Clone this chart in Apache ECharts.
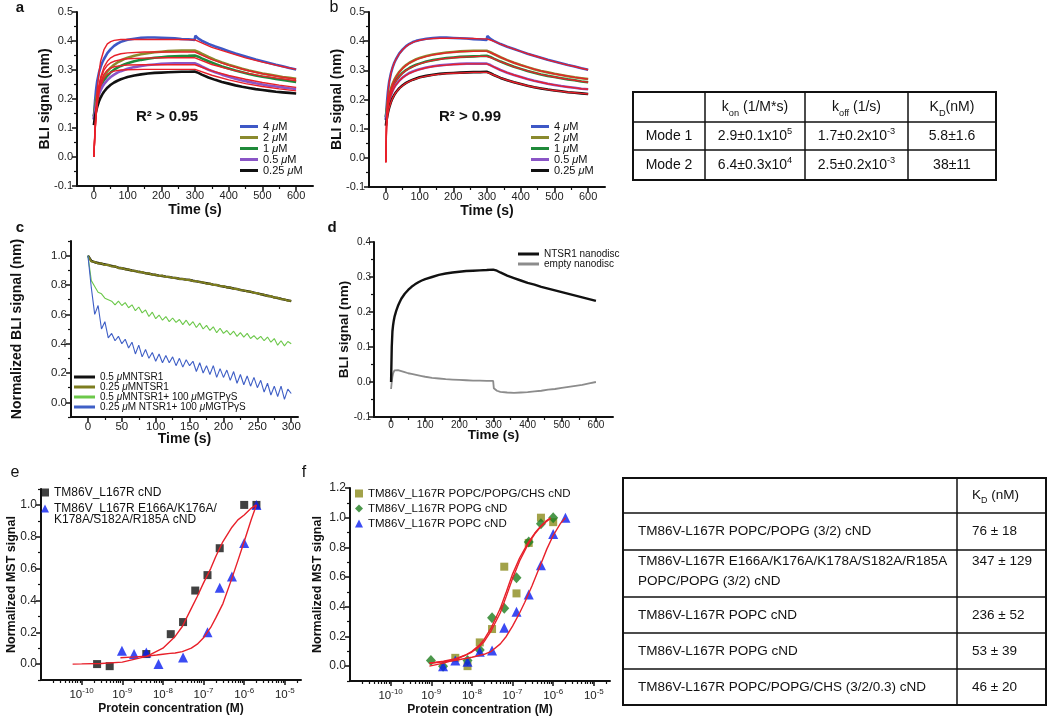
<!DOCTYPE html>
<html><head><meta charset="utf-8">
<script src="https://cdn.jsdelivr.net/npm/echarts@6/dist/echarts.min.js"></script>
<style>html,body{margin:0;padding:0;background:#fff}#chart{width:1050px;height:719px}</style>
</head><body><div id="chart"></div>
<script>
// ---------------- DATA ----------------
// a / b / d : BLI kinetics (time in s)
const timeKinetic = [0,2,4,6,8,10,15,20,25,30,40,50,60,70,80,90,100,120,140,160,180,200,220,240,260,280,299,301,310,320,340,360,380,400,420,440,460,480,500,520,540,560,580,600];
const bli4uM   = [0.13,0.17,0.2,0.225,0.245,0.262,0.29,0.31,0.326,0.338,0.358,0.372,0.383,0.391,0.397,0.401,0.404,0.408,0.411,0.412,0.412,0.411,0.41,0.409,0.407,0.406,0.404,0.418,0.408,0.401,0.39,0.381,0.373,0.365,0.357,0.35,0.343,0.336,0.33,0.324,0.318,0.313,0.307,0.302];
const bli2uM   = [0.14,0.16,0.178,0.193,0.205,0.215,0.237,0.254,0.267,0.278,0.295,0.308,0.318,0.326,0.332,0.338,0.342,0.349,0.354,0.358,0.361,0.363,0.365,0.366,0.367,0.367,0.367,0.369,0.362,0.356,0.345,0.335,0.326,0.318,0.311,0.304,0.298,0.293,0.288,0.284,0.28,0.276,0.273,0.27];
const bli1uM   = [0.14,0.155,0.17,0.183,0.195,0.205,0.226,0.242,0.255,0.265,0.28,0.292,0.301,0.308,0.314,0.319,0.323,0.33,0.335,0.339,0.342,0.344,0.346,0.347,0.348,0.349,0.35,0.352,0.346,0.34,0.33,0.321,0.312,0.305,0.298,0.292,0.286,0.281,0.277,0.273,0.269,0.266,0.262,0.259];
const bli05uM  = [0.13,0.148,0.163,0.176,0.187,0.197,0.215,0.23,0.242,0.251,0.265,0.276,0.284,0.291,0.296,0.3,0.304,0.31,0.314,0.317,0.319,0.321,0.322,0.323,0.323,0.323,0.323,0.325,0.318,0.312,0.301,0.292,0.284,0.277,0.27,0.264,0.259,0.254,0.25,0.246,0.243,0.24,0.237,0.235];
const bli025uM = [0.11,0.128,0.142,0.154,0.164,0.173,0.191,0.205,0.216,0.225,0.239,0.249,0.257,0.263,0.268,0.272,0.276,0.281,0.285,0.288,0.29,0.291,0.292,0.293,0.294,0.294,0.295,0.297,0.29,0.284,0.274,0.266,0.259,0.253,0.247,0.242,0.238,0.234,0.231,0.228,0.225,0.223,0.221,0.219];
// a: global fit (R2 > 0.95)
const fitTimeA = [0,3,6,10,15,20,30,40,50,60,80,100,150,200,250,300,350,400,450,500,550,600];
const fitA4uM   = [0,0.09,0.16,0.235,0.29,0.33,0.37,0.39,0.398,0.402,0.405,0.405,0.405,0.405,0.405,0.404,0.378,0.36,0.342,0.327,0.314,0.302];
const fitA2uM   = [0,0.08,0.14,0.2,0.245,0.275,0.31,0.33,0.342,0.349,0.356,0.359,0.362,0.362,0.362,0.362,0.336,0.316,0.3,0.287,0.277,0.268];
const fitA1uM   = [0,0.08,0.14,0.2,0.24,0.268,0.3,0.316,0.325,0.33,0.336,0.339,0.341,0.342,0.342,0.342,0.319,0.303,0.29,0.279,0.271,0.263];
const fitA05uM  = [0,0.078,0.135,0.19,0.23,0.255,0.285,0.3,0.307,0.311,0.315,0.317,0.318,0.318,0.318,0.318,0.297,0.281,0.268,0.257,0.248,0.24];
const fitA025uM = [0,0.075,0.13,0.18,0.22,0.245,0.272,0.285,0.292,0.296,0.3,0.301,0.302,0.302,0.302,0.302,0.282,0.266,0.253,0.243,0.235,0.228];
// b: two-mode fit (R2 > 0.99), on timeKinetic
const fitB4uM   = [-0.015,0.13,0.185,0.22,0.243,0.261,0.29,0.31,0.326,0.338,0.357,0.371,0.382,0.39,0.396,0.4,0.403,0.407,0.409,0.41,0.41,0.41,0.41,0.409,0.409,0.408,0.408,0.407,0.404,0.4,0.39,0.381,0.373,0.365,0.357,0.35,0.343,0.336,0.33,0.324,0.318,0.313,0.307,0.302];
const fitB2uM   = [-0.015,0.12,0.165,0.19,0.204,0.214,0.236,0.253,0.266,0.277,0.294,0.307,0.317,0.325,0.332,0.337,0.341,0.348,0.353,0.357,0.36,0.362,0.364,0.365,0.365,0.366,0.366,0.365,0.361,0.356,0.345,0.335,0.326,0.318,0.311,0.304,0.298,0.293,0.288,0.284,0.28,0.276,0.273,0.27];
const fitB1uM   = [-0.015,0.115,0.155,0.18,0.193,0.204,0.225,0.241,0.254,0.264,0.279,0.291,0.3,0.307,0.313,0.318,0.322,0.329,0.334,0.338,0.341,0.343,0.345,0.346,0.347,0.348,0.348,0.347,0.344,0.34,0.33,0.321,0.312,0.305,0.298,0.292,0.286,0.281,0.277,0.273,0.269,0.266,0.262,0.259];
const fitB05uM  = [-0.015,0.11,0.148,0.17,0.184,0.195,0.214,0.229,0.241,0.25,0.264,0.275,0.283,0.29,0.295,0.299,0.303,0.309,0.313,0.316,0.318,0.32,0.321,0.322,0.322,0.322,0.322,0.321,0.317,0.312,0.301,0.292,0.284,0.277,0.27,0.264,0.259,0.254,0.25,0.246,0.243,0.24,0.237,0.235];
const fitB025uM = [-0.015,0.1,0.132,0.15,0.162,0.172,0.19,0.204,0.215,0.224,0.238,0.248,0.256,0.262,0.267,0.271,0.275,0.28,0.284,0.287,0.289,0.29,0.291,0.292,0.293,0.293,0.293,0.292,0.289,0.284,0.274,0.266,0.259,0.253,0.247,0.242,0.238,0.234,0.231,0.228,0.225,0.223,0.221,0.219];
// c: normalized dissociation
const timeC = [0,5,10,15,20,25,30,35,40,45,50,55,60,65,70,75,80,85,90,95,100,105,110,115,120,125,130,135,140,145,150,155,160,165,170,175,180,185,190,195,200,205,210,215,220,225,230,235,240,245,250,255,260,265,270,275,280,285,290,295,300];
const normNTSR1_05   = [1.0,0.965,0.955,0.95,0.945,0.94,0.935,0.93,0.925,0.918,0.914,0.909,0.904,0.899,0.895,0.89,0.886,0.881,0.877,0.872,0.868,0.864,0.861,0.857,0.854,0.85,0.847,0.843,0.84,0.837,0.834,0.829,0.825,0.821,0.816,0.812,0.808,0.803,0.799,0.794,0.79,0.785,0.781,0.776,0.772,0.767,0.762,0.758,0.753,0.748,0.743,0.738,0.732,0.727,0.722,0.716,0.711,0.706,0.7,0.695,0.69];
const normNTSR1_025  = [1.0,0.96,0.958,0.946,0.948,0.936,0.938,0.926,0.928,0.915,0.916,0.906,0.907,0.896,0.898,0.887,0.889,0.878,0.88,0.869,0.871,0.861,0.864,0.854,0.857,0.847,0.85,0.84,0.843,0.834,0.836,0.826,0.828,0.818,0.819,0.809,0.811,0.8,0.802,0.791,0.793,0.782,0.784,0.773,0.775,0.764,0.765,0.755,0.756,0.745,0.746,0.735,0.735,0.724,0.725,0.713,0.714,0.703,0.703,0.692,0.692];
const normGTP_05     = [1.0,0.83,0.79,0.75,0.74,0.71,0.7,0.69,0.665,0.69,0.66,0.68,0.645,0.665,0.625,0.65,0.61,0.63,0.585,0.615,0.57,0.595,0.56,0.585,0.55,0.575,0.545,0.565,0.53,0.56,0.525,0.55,0.51,0.54,0.5,0.525,0.49,0.515,0.475,0.505,0.47,0.49,0.46,0.485,0.45,0.475,0.445,0.47,0.435,0.455,0.43,0.45,0.42,0.445,0.41,0.435,0.39,0.42,0.385,0.415,0.4];
const normGTP_025    = [1.0,0.78,0.6,0.66,0.5,0.55,0.44,0.47,0.42,0.45,0.4,0.43,0.37,0.41,0.33,0.39,0.31,0.36,0.3,0.34,0.28,0.33,0.27,0.32,0.27,0.31,0.25,0.3,0.24,0.29,0.25,0.28,0.21,0.27,0.2,0.25,0.19,0.25,0.17,0.23,0.17,0.22,0.15,0.21,0.13,0.19,0.12,0.18,0.11,0.17,0.1,0.15,0.07,0.13,0.05,0.11,0.04,0.11,0.02,0.09,0.06];
// d
const bliNTSR1Disc = [0.0,0.1,0.145,0.163,0.176,0.186,0.203,0.217,0.228,0.238,0.252,0.263,0.272,0.279,0.285,0.29,0.294,0.3,0.306,0.31,0.313,0.315,0.317,0.318,0.319,0.32,0.321,0.324,0.318,0.313,0.304,0.297,0.29,0.283,0.278,0.272,0.267,0.262,0.257,0.252,0.247,0.242,0.237,0.232];
const bliEmptyDisc = [-0.02,0.0,0.015,0.025,0.03,0.033,0.035,0.034,0.032,0.031,0.028,0.025,0.023,0.021,0.019,0.017,0.015,0.012,0.01,0.008,0.007,0.006,0.005,0.004,0.004,0.003,0.003,-0.018,-0.025,-0.028,-0.03,-0.031,-0.03,-0.029,-0.027,-0.025,-0.022,-0.02,-0.017,-0.014,-0.011,-0.008,-0.004,0.0];
// e: MST (concentration in M)
const concE_wt  = [2.4e-10,4.9e-10,3.9e-9,1.56e-8,3.13e-8,6.25e-8,1.25e-7,2.5e-7,1e-6,2e-6];
const mstE_wt   = [0.0,-0.013,0.063,0.188,0.264,0.462,0.559,0.728,1.0,1.0];
const concE_mut = [9.8e-10,1.95e-9,3.9e-9,7.8e-9,3.13e-8,1.25e-7,2.5e-7,5e-7,1e-6,2e-6];
const mstE_mut  = [0.084,0.063,0.073,0.0,0.042,0.2,0.48,0.55,0.76,1.0];
const fitConcE_wt  = [6e-11,1e-10,3e-10,1e-9,4e-9,1e-8,2e-8,3e-8,5e-8,7e-8,1e-7,1.5e-7,2e-7,3e-7,5e-7,7e-7,1e-6,1.5e-6,2e-6];
const fitE_wt      = [0,0.001,0.004,0.012,0.048,0.1,0.174,0.236,0.35,0.425,0.51,0.6,0.676,0.77,0.86,0.906,0.937,0.98,1.0];
const fitConcE_mut = [9e-10,2e-9,4e-9,7e-9,1e-8,1.5e-8,2e-8,3e-8,5e-8,7e-8,1e-7,1.5e-7,2e-7,3e-7,5e-7,7e-7,1e-6,1.5e-6,2e-6];
const fitE_mut     = [0.04,0.045,0.05,0.057,0.062,0.067,0.07,0.078,0.1,0.125,0.165,0.23,0.29,0.38,0.54,0.65,0.77,0.91,1.0];
// f
const concF_chs  = [3.9e-9,7.8e-9,1.56e-8,3.13e-8,6.25e-8,1.25e-7,2.5e-7,5e-7,1e-6];
const mstF_chs   = [0.056,0.0,0.16,0.25,0.67,0.49,0.83,1.0,0.97];
const concF_popg = [9.8e-10,1.95e-9,7.8e-9,1.56e-8,3.13e-8,6.25e-8,1.25e-7,2.5e-7,5e-7,1e-6];
const mstF_popg  = [0.038,0.0,0.038,0.108,0.326,0.39,0.596,0.836,0.96,1.0];
const concF_popc = [1.95e-9,3.9e-9,7.8e-9,1.56e-8,3.13e-8,6.25e-8,1.25e-7,2.5e-7,5e-7,1e-6,2e-6];
const mstF_popc  = [0.0,0.038,0.03,0.097,0.105,0.258,0.366,0.483,0.68,0.89,1.0];
const fitConcF      = [9e-10,2e-9,4e-9,7e-9,1e-8,1.5e-8,2e-8,3e-8,5e-8,7e-8,1e-7,1.5e-7,2.4e-7,3.5e-7,4.8e-7,6.5e-7,8.6e-7];
const fitF_chs      = [0.0,0.02,0.045,0.075,0.1,0.14,0.18,0.26,0.39,0.5,0.62,0.73,0.83,0.895,0.94,0.975,1.0];
const fitF_popg     = [0.02,0.033,0.05,0.075,0.095,0.13,0.165,0.24,0.36,0.47,0.59,0.71,0.82,0.89,0.935,0.97,0.995];
const fitConcF_popc = [9e-10,2e-9,4e-9,1e-8,2e-8,3e-8,5e-8,7e-8,1e-7,1.5e-7,2e-7,3e-7,5e-7,7e-7,1e-6,1.5e-6,2e-6];
const fitF_popc     = [0.02,0.03,0.04,0.06,0.08,0.1,0.15,0.2,0.27,0.36,0.43,0.54,0.69,0.79,0.88,0.96,1.0];
// tick values
const ticksTime600 = [0,100,200,300,400,500,600];
const minorTime600 = [50,150,250,350,450,550];
const ticksBLI = [-0.1,0,0.1,0.2,0.3,0.4,0.5];
const minorBLI = [-0.05,0.05,0.15,0.25,0.35,0.45];
const ticksBLId = [-0.1,0,0.1,0.2,0.3,0.4];
const minorBLId = [-0.05,0.05,0.15,0.25,0.35];
const ticksTime300 = [0,50,100,150,200,250,300];
const minorTime300 = [25,75,125,175,225,275];
const ticksNormBLI = [0,0.2,0.4,0.6,0.8,1.0];
const minorNormBLI = [-0.1,0.1,0.3,0.5,0.7,0.9,1.1];
const ticksConc = [1e-10,1e-9,1e-8,1e-7,1e-6,1e-5];
const concDecades = [-11,-10,-9,-8,-7,-6,-5];
const logMantissas = [2,3,4,5,6,7,8,9];
const ticksMSTe = [0,0.2,0.4,0.6,0.8,1.0];
const minorMSTe = [-0.1,0.1,0.3,0.5,0.7,0.9,1.1];
const ticksMSTf = [0,0.2,0.4,0.6,0.8,1.0,1.2];
const minorMSTf = [-0.1,0.1,0.3,0.5,0.7,0.9,1.1];
// legend names
const concLabels = ['4 μM','2 μM','1 μM','0.5 μM','0.25 μM'];
const legendC = ['0.5 μMNTSR1','0.25 μMNTSR1','0.5 μMNTSR1+ 100 μMGTPγS','0.25 μM NTSR1+ 100 μMGTPγS'];
const legendD = ['NTSR1 nanodisc','empty nanodisc'];
const legendE = ['TM86V_L167R cND','TM86V_L167R E166A/K176A/K178A/S182A/R185A cND'];
const legendF = ['TM86V_L167R POPC/POPG/CHS cND','TM86V_L167R POPG cND','TM86V_L167R POPC cND'];
// tables
const kinHeader = ['', 'k_on (1/M*s)', 'k_off (1/s)', 'K_D(nM)'];
const kinRows = [
  ['Mode 1', '2.9±0.1x10^5', '1.7±0.2x10^-3', '5.8±1.6'],
  ['Mode 2', '6.4±0.3x10^4', '2.5±0.2x10^-3', '38±11']
];
const kdHeader = ['', 'K_D (nM)'];
const kdRows = [
  ['TM86V-L167R POPC/POPG (3/2) cND', '76 ± 18'],
  ['TM86V-L167R E166A/K176A/K178A/S182A/R185A\nPOPC/POPG (3/2) cND', '347 ± 129'],
  ['TM86V-L167R POPC cND', '236 ± 52'],
  ['TM86V-L167R POPG cND', '53 ± 39'],
  ['TM86V-L167R POPC/POPG/CHS (3/2/0.3) cND', '46 ± 20']
];

// ---------------- STYLE / LAYOUT ----------------
const FONT = 'Liberation Sans, Arial, Helvetica, sans-serif';
const NARROW = 'Liberation Sans Narrow, Liberation Sans, Arial, sans-serif';
const INK = '#111';
const colBlue = '#3e58c6', colOlive = '#8a8a2e', colGreen = '#1f8a3a', colPurple = '#8a55c6', colBlack = '#111', colRed = '#e8202a';

const grids = [
  {left:77,  top:12,  width:236, height:174},
  {left:369, top:12,  width:236, height:175},
  {left:71,  top:241, width:227, height:176},
  {left:374, top:242, width:239, height:175},
  {left:41,  top:489, width:260, height:191},
  {left:350, top:488, width:260, height:193}
].map(g => Object.assign({outerBoundsMode:'none', containLabel:false, show:false}, g));

const xAxes = [], yAxes = [];
function axisPair(dim, gi, c) {
  const pos = dim === 'x' ? 'bottom' : 'left';
  const main = {
    type: c.type || 'value', gridIndex: gi, min: c.min, max: c.max, position: pos, offset: 0,
    name: c.name, nameLocation: 'middle', nameGap: c.nameGap, nameRotate: dim === 'y' ? 90 : 0,
    nameMoveOverlap: false,
    nameTextStyle: {fontFamily: FONT, fontWeight: 'bold', fontSize: c.nameSize || 14, color: INK},
    axisLine: {show: true, onZero: false, lineStyle: {color: INK, width: 2}},
    axisTick: {show: true, customValues: c.majors, length: 5, lineStyle: {color: INK, width: 1.5}},
    axisLabel: {show: true, customValues: c.majors, formatter: c.fmt, margin: c.margin || 4,
      fontFamily: c.labelFont || FONT, fontSize: c.labelSize || 11, color: '#222', rich: c.rich, hideOverlap: false},
    splitLine: {show: false}, minorTick: {show: false}, axisPointer: {show: false}
  };
  const minor = {
    type: c.type || 'value', gridIndex: gi, min: c.min, max: c.max, position: pos, offset: 0,
    axisLine: {show: false, onZero: false},
    axisTick: {show: true, customValues: c.minors, length: 3, lineStyle: {color: INK, width: 1.2}},
    axisLabel: {show: false}, splitLine: {show: false}, axisPointer: {show: false}
  };
  if (c.type === 'log') { main.logBase = 10; minor.logBase = 10; }
  return [main, minor];
}
function addAxes(gi, xc, yc) {
  xAxes.push(...axisPair('x', gi, xc));
  yAxes.push(...axisPair('y', gi, yc));
}
const f1 = v => v.toFixed(1);
const fint = v => String(Math.round(v));
const logRich = {b: {fontFamily: FONT, fontSize: 11.5, color: '#222', lineHeight: 14, verticalAlign: 'bottom'},
                 s: {fontFamily: FONT, fontSize: 8, color: '#222', lineHeight: 6, verticalAlign: 'top'}};
const fmtPow = v => '{b|10}{s|' + Math.round(Math.log10(v)) + '}';
const minorConc = [];
concDecades.forEach(d => logMantissas.forEach(m => minorConc.push(m * Math.pow(10, d))));

// a, b
[0, 1].forEach(gi => addAxes(gi,
  {min: -50, max: 650, majors: ticksTime600, minors: minorTime600, fmt: fint, name: 'Time (s)', nameGap: 17},
  {min: -0.1, max: 0.5, majors: ticksBLI, minors: minorBLI, fmt: f1, name: 'BLI signal (nm)', nameGap: 25}));
// c
addAxes(2,
  {min: -25, max: 310, majors: ticksTime300, minors: minorTime300, fmt: fint, name: 'Time (s)', nameGap: 15, labelSize: 11.5},
  {min: -0.1, max: 1.1, majors: ticksNormBLI, minors: minorNormBLI, fmt: f1, name: 'Normalized BLI signal (nm)', nameGap: 47, labelSize: 11.5});
// d
addAxes(3,
  {min: -50, max: 650, majors: ticksTime600, minors: minorTime600, fmt: fint, name: 'Time (s)', nameGap: 11, nameSize: 13.5, labelFont: NARROW, labelSize: 10, margin: 3},
  {min: -0.1, max: 0.4, majors: ticksBLId, minors: minorBLId, fmt: f1, name: 'BLI signal (nm)', nameGap: 23, nameSize: 13.5, labelFont: NARROW, labelSize: 10, margin: 3});
// e
addAxes(4,
  {type: 'log', min: 1e-11, max: 2.5e-5, majors: ticksConc, minors: minorConc, fmt: fmtPow, rich: logRich, name: 'Protein concentration (M)', nameGap: 23, nameSize: 12, margin: 7},
  {min: -0.1, max: 1.1, majors: ticksMSTe, minors: minorMSTe, fmt: f1, name: 'Normalized MST signal', nameGap: 23, nameSize: 12.5, labelSize: 12});
// f
addAxes(5,
  {type: 'log', min: 1e-11, max: 2.5e-5, majors: ticksConc, minors: minorConc, fmt: fmtPow, rich: logRich, name: 'Protein concentration (M)', nameGap: 23, nameSize: 12, margin: 7},
  {min: -0.1, max: 1.2, majors: ticksMSTf, minors: minorMSTf, fmt: f1, name: 'Normalized MST signal', nameGap: 26, nameSize: 12.5, labelSize: 12});

// ---------------- SERIES ----------------
const series = [];
const zip = (xs, ys) => xs.map((x, i) => [x, ys[i]]);
function line(gi, name, xs, ys, color, width) {
  series.push({type: 'line', name, xAxisIndex: 2 * gi, yAxisIndex: 2 * gi, data: zip(xs, ys),
    showSymbol: false, symbol: 'none', lineStyle: {color, width}, itemStyle: {color},
    silent: true, animation: false, emphasis: {disabled: true}});
}
function dots(gi, name, xs, ys, color, symbol, size) {
  series.push({type: 'scatter', name, xAxisIndex: 2 * gi, yAxisIndex: 2 * gi, data: zip(xs, ys),
    symbol, symbolSize: size, itemStyle: {color}, silent: true, animation: false, emphasis: {disabled: true}});
}
const rawSets = [bli4uM, bli2uM, bli1uM, bli05uM, bli025uM];
const rawCols = [colBlue, colOlive, colGreen, colPurple, colBlack];
const fitsA = [fitA4uM, fitA2uM, fitA1uM, fitA05uM, fitA025uM];
const fitsB = [fitB4uM, fitB2uM, fitB1uM, fitB05uM, fitB025uM];
[0, 1].forEach(gi => {
  rawSets.forEach((d, i) => line(gi, concLabels[i], timeKinetic, d, rawCols[i], 2.6));
  const fits = gi === 0 ? fitsA : fitsB;
  fits.forEach((d, i) => line(gi, 'fit ' + concLabels[i], gi === 0 ? fitTimeA : timeKinetic, d, colRed, 1.4));
});
line(2, legendC[0], timeC, normNTSR1_05, '#111', 2.4);
line(2, legendC[1], timeC, normNTSR1_025, '#7d7d1f', 2.0);
line(2, legendC[2], timeC, normGTP_05, '#6cc84a', 1.1);
line(2, legendC[3], timeC, normGTP_025, '#3f5fc6', 1.1);
line(3, legendD[1], timeKinetic, bliEmptyDisc, '#8c8c8c', 1.8);
line(3, legendD[0], timeKinetic, bliNTSR1Disc, '#111', 2.4);
line(4, 'fit e1', fitConcE_wt, fitE_wt, colRed, 1.4);
line(4, 'fit e2', fitConcE_mut, fitE_mut, colRed, 1.4);
dots(4, legendE[0], concE_wt, mstE_wt, '#111', 'rect', 8);
dots(4, legendE[1], concE_mut, mstE_mut, '#0a1ef0', 'triangle', 10);
line(5, 'fit f1', fitConcF, fitF_chs, colRed, 1.4);
line(5, 'fit f2', fitConcF, fitF_popg, colRed, 1.4);
line(5, 'fit f3', fitConcF_popc, fitF_popc, colRed, 1.4);
dots(5, legendF[0], concF_chs, mstF_chs, '#8b8b1c', 'rect', 8);
dots(5, legendF[1], concF_popg, mstF_popg, '#1e7d1e', 'diamond', [10, 11]);
dots(5, legendF[2], concF_popc, mstF_popc, '#0a1ef0', 'triangle', 10);

// ---------------- LEGENDS ----------------
const muRich = {i: {fontStyle: 'italic', fontFamily: FONT, fontSize: 11, color: INK}};
const muFmt = n => n.replace(/μ/g, '{i|μ}');
const legends = [
  {data: concLabels, left: 240, top: 121, itemWidth: 18, itemHeight: 3, icon: 'rect',
   textStyle: {fontFamily: FONT, fontSize: 11, lineHeight: 10, color: INK, rich: muRich}, formatter: muFmt},
  {data: concLabels, left: 531, top: 121, itemWidth: 18, itemHeight: 3, icon: 'rect',
   textStyle: {fontFamily: FONT, fontSize: 11, lineHeight: 10, color: INK, rich: muRich}, formatter: muFmt},
  {data: legendC, left: 74, top: 372, itemWidth: 21, itemHeight: 3, icon: 'rect',
   textStyle: {fontFamily: NARROW, fontSize: 10, lineHeight: 10, color: INK,
     rich: {i: {fontStyle: 'italic', fontFamily: NARROW, fontSize: 10, color: INK}}}, formatter: muFmt},
  {data: legendD, left: 518, top: 249, itemWidth: 21, itemHeight: 3, icon: 'rect',
   textStyle: {fontFamily: FONT, fontSize: 10, lineHeight: 9, color: INK}},
  {data: [{name: legendE[0], icon: 'rect'}, {name: legendE[1], icon: 'triangle'}], left: 41, top: 486,
   itemWidth: 8, itemHeight: 8, itemGap: 3,
   textStyle: {fontFamily: FONT, fontSize: 12, lineHeight: 13, color: INK},
   formatter: n => n === legendE[1] ? 'TM86V_L167R E166A/K176A/' : n},
  {data: [{name: legendF[0], icon: 'rect'}, {name: legendF[1], icon: 'diamond'}, {name: legendF[2], icon: 'triangle'}],
   left: 355, top: 487, itemWidth: 8, itemHeight: 8, itemGap: 2,
   textStyle: {fontFamily: FONT, fontSize: 11.5, lineHeight: 13, color: INK}}
].map(l => Object.assign({orient: 'vertical', itemGap: 0, selectedMode: false, padding: 0, inactiveColor: '#111'}, l));

// ---------------- GRAPHIC (labels, tables) ----------------
const g = [];
function txt(x, y, text, o) {
  g.push({type: 'text', x, y, silent: true, z: 100,
    style: Object.assign({text, fill: INK, fontFamily: FONT, fontSize: 14,
      align: 'center', verticalAlign: 'middle', textAlign: 'center', textVerticalAlign: 'middle'}, o || {})});
}
txt(20, 8, 'a', {fontWeight: 'bold', fontSize: 15});
txt(334, 8, 'b', {fontSize: 16});
txt(20, 228, 'c', {fontWeight: 'bold', fontSize: 15});
txt(332, 228, 'd', {fontWeight: 'bold', fontSize: 15});
txt(15, 473, 'e', {fontSize: 16});
txt(304, 473, 'f', {fontSize: 16});
txt(167, 117, 'R² > 0.95', {fontWeight: 'bold', fontSize: 15});
txt(470, 117, 'R² > 0.99', {fontWeight: 'bold', fontSize: 15});
txt(54, 520, 'K178A/S182A/R185A cND', {fontSize: 12, align: 'left', textAlign: 'left'});

function richify(s, fs) {
  const re = /([_^])([^\s(]+)/g;
  let out = '', last = 0, m;
  while ((m = re.exec(s)) !== null) {
    if (m.index > last) out += '{n|' + s.slice(last, m.index) + '}';
    out += '{' + (m[1] === '_' ? 'sub' : 'sup') + '|' + m[2] + '}';
    last = m.index + m[0].length;
  }
  if (last < s.length) out += '{n|' + s.slice(last) + '}';
  return out;
}
function tableRich(fs) {
  return {
    n:   {fontFamily: FONT, fontSize: fs, lineHeight: 20, verticalAlign: 'middle', fill: INK},
    sub: {fontFamily: FONT, fontSize: fs * 0.66, lineHeight: 12, verticalAlign: 'bottom', fill: INK},
    sup: {fontFamily: FONT, fontSize: fs * 0.66, lineHeight: 12, verticalAlign: 'top', fill: INK}
  };
}
function hline(x1, x2, y, w) { g.push({type: 'line', silent: true, shape: {x1, y1: y, x2, y2: y}, style: {stroke: INK, lineWidth: w}}); }
function vline(x, y1, y2, w) { g.push({type: 'line', silent: true, shape: {x1: x, y1, x2: x, y2}, style: {stroke: INK, lineWidth: w}}); }
function box(x1, y1, x2, y2, w) { g.push({type: 'rect', silent: true, shape: {x: x1, y: y1, width: x2 - x1, height: y2 - y1}, style: {fill: 'none', stroke: INK, lineWidth: w}}); }

// top kinetic table
(function () {
  const cx = [633, 705, 805, 908, 996], ry = [92, 122, 150, 180], fs = 14;
  box(cx[0], ry[0], cx[4], ry[3], 2);
  for (let i = 1; i < 4; i++) vline(cx[i], ry[0], ry[3], 1.5);
  for (let j = 1; j < 3; j++) hline(cx[0], cx[4], ry[j], 1.5);
  const rows = [kinHeader].concat(kinRows);
  rows.forEach((r, j) => r.forEach((cell, i) => {
    if (!cell) return;
    txt((cx[i] + cx[i + 1]) / 2, (ry[j] + ry[j + 1]) / 2 + 0.5, richify(cell, fs), {rich: tableRich(fs), fontSize: fs});
  }));
})();
// bottom Kd table
(function () {
  const cx = [623, 957, 1046], ry = [478, 513, 550, 597, 633, 669, 705], fs = 13.5;
  box(cx[0], ry[0], cx[2], ry[6], 2);
  vline(cx[1], ry[0], ry[6], 1.5);
  for (let j = 1; j < 6; j++) hline(cx[0], cx[2], ry[j], 1.5);
  const rows = [kdHeader].concat(kdRows);
  rows.forEach((r, j) => {
    const two = r[0].indexOf('\n') >= 0;
    const yc = (ry[j] + ry[j + 1]) / 2 + (two ? -2 : 0);
    if (r[0]) txt(cx[0] + 15, yc, richify(r[0], fs), {rich: tableRich(fs), fontSize: fs, align: 'left', textAlign: 'left'});
    const y2 = two ? yc - 10 : yc;
    txt(cx[1] + 15, y2, richify(r[1], fs), {rich: tableRich(fs), fontSize: fs, align: 'left', textAlign: 'left'});
  });
})();

const chart = echarts.init(document.getElementById('chart'), null, {renderer: 'canvas', width: 1050, height: 719});
chart.setOption({
  backgroundColor: '#fff',
  animation: false,
  textStyle: {fontFamily: FONT},
  grid: grids,
  xAxis: xAxes,
  yAxis: yAxes,
  legend: legends,
  series,
  graphic: {elements: g}
});
</script></body></html>
